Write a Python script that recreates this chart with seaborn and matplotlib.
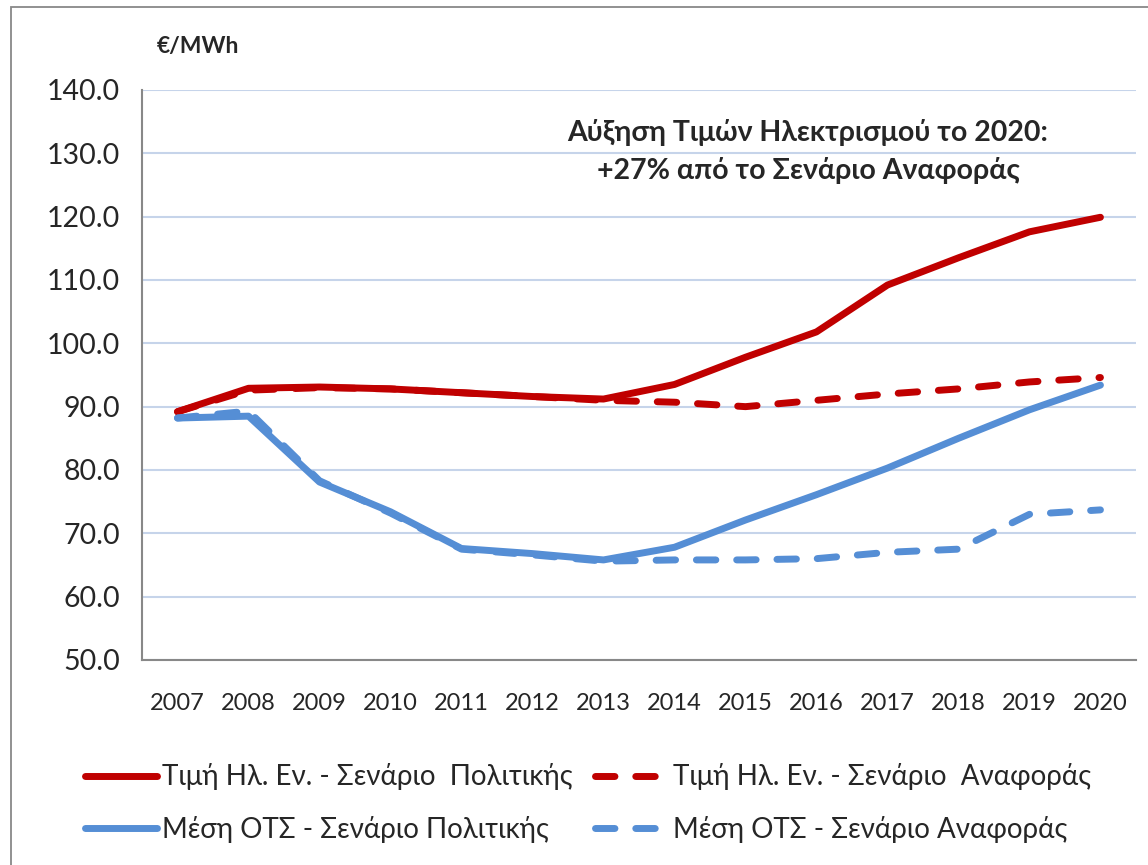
import numpy as np
import pandas as pd
import matplotlib
matplotlib.use("Agg")
import matplotlib.pyplot as plt
import seaborn as sns

# data
years = [2007, 2008, 2009, 2010, 2011, 2012, 2013, 2014, 2015, 2016, 2017, 2018, 2019, 2020]
price_policy = [89.2, 92.9, 93.1, 92.8, 92.2, 91.6, 91.2, 93.5, 97.8, 101.8, 109.2, 113.5, 117.6, 119.9]
price_ref = [89.2, 92.6, 93.0, 92.8, 92.2, 91.6, 91.0, 90.7, 90.0, 91.0, 92.0, 92.8, 93.9, 94.6]
cost_policy = [88.2, 88.5, 78.1, 73.4, 67.6, 66.8, 65.8, 67.8, 72.1, 76.1, 80.3, 85.0, 89.5, 93.4]
cost_ref = [88.2, 89.3, 78.3, 73.2, 67.5, 66.6, 65.6, 65.8, 65.8, 66.0, 67.0, 67.5, 73.0, 73.7]

labels = ["Τιμή Ηλ. Εν. - Σενάριο  Πολιτικής", "Τιμή Ηλ. Εν. - Σενάριο  Αναφοράς",
          "Μέση ΟΤΣ - Σενάριο Πολιτικής", "Μέση ΟΤΣ - Σενάριο Αναφοράς"]
annot = "Αύξηση Τιμών Ηλεκτρισμού το 2020:\n+27% από το Σενάριο Αναφοράς"

red = "#c00000"
blue = "#558ed5"

sns.set_style("white")
plt.rcParams['font.family'] = ['Lato', 'DejaVu Sans']

fig = plt.figure(figsize=(11.48, 8.65), dpi=100)
ax = fig.add_axes([0.1237, 0.237, 0.8658, 0.659])

series = [(price_policy, red, "-", labels[0]),
          (price_ref, red, "--", labels[1]),
          (cost_policy, blue, "-", labels[2]),
          (cost_ref, blue, "--", labels[3])]
for vals, col, ls, lab in series:
    df = pd.DataFrame({"year": years, "val": vals})
    sns.lineplot(data=df, x="year", y="val", ax=ax, color=col, linestyle=ls,
                 linewidth=5, label=lab, legend=False,
                 solid_capstyle="round", dash_capstyle="round", solid_joinstyle="round")
    if ls == "--":
        ax.lines[-1].set_dashes([2.8, 3.0])

ax.set_xlim(2006.5, 2020.5)
ax.set_ylim(50, 140)
ax.set_yticks(np.arange(50, 141, 10))
ax.set_yticklabels([f"{v:.1f}" for v in np.arange(50, 141, 10)], fontsize=20.5)
ax.set_xticks(years)
ax.set_xticklabels([str(y) for y in years], fontsize=17)
ax.set_xticks(np.arange(2006.5, 2021, 1), minor=True)
ax.tick_params(axis="x", which="major", length=0, pad=24)
ax.tick_params(axis="x", which="minor", length=7, width=1.2, color="#888888", direction="out")
ax.tick_params(axis="y", length=8, width=1.2, color="#888888", direction="out", pad=8)
ax.set_xlabel("")
ax.set_ylabel("")
ax.grid(axis="y", color="#c6d4ea", linewidth=1.5)
ax.set_axisbelow(True)
for s in ["top", "right"]:
    ax.spines[s].set_visible(False)
for s in ["left", "bottom"]:
    ax.spines[s].set_color("#888888")
    ax.spines[s].set_linewidth(1.5)

fig.text(157 / 1148, 1 - 47 / 865, "€/MWh", fontsize=16.5, fontweight="bold", va="center", ha="left")
fig.text(808 / 1148, 1 - 152 / 865, annot, fontsize=20.5, fontweight="bold",
         ha="center", va="center", linespacing=1.5)

h, l = ax.get_legend_handles_labels()
order = [0, 2, 1, 3]
fig.legend([h[i] for i in order], [l[i] for i in order], ncol=2, frameon=False,
           loc="center", bbox_to_anchor=(0.512, 1 - 803 / 865), fontsize=20,
           handlelength=2.6, handletextpad=0.2, columnspacing=0.8, labelspacing=0.92)

# outer chart frame
fig.patches.append(plt.Rectangle((11 / 1148, -0.1), 1.2, 1 - 7 / 865 + 0.1,
                                 transform=fig.transFigure, fill=False,
                                 edgecolor="#888888", linewidth=1.3))

fig.savefig("out.png", dpi=100)
